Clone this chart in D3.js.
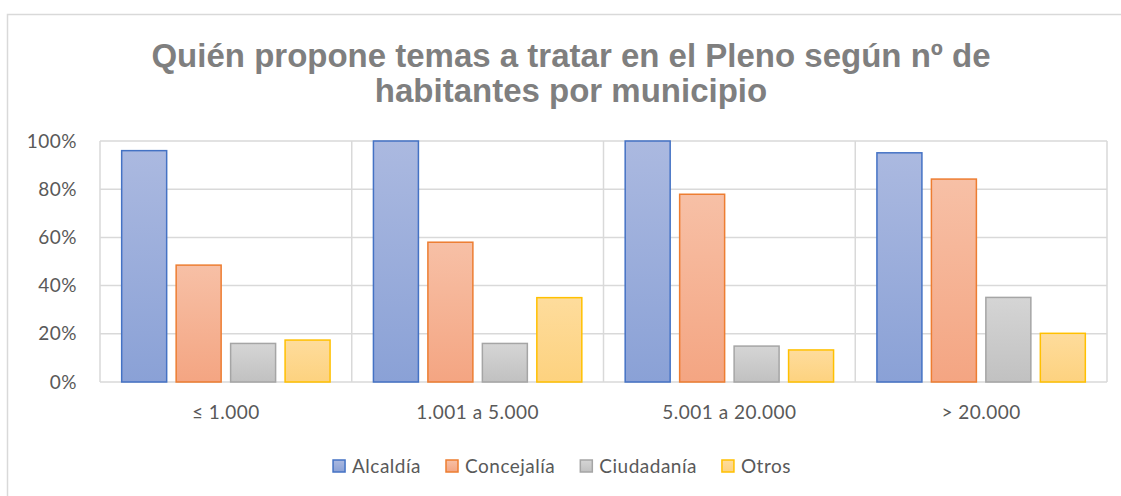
<!DOCTYPE html>
<html>
<head>
<meta charset="utf-8">
<script src="https://cdn.jsdelivr.net/npm/d3@7"></script>
<style>
  body { margin: 0; background: #fff; }
  svg { display: block; }
  .lbl { font-family: Lato, "Noto Sans", sans-serif; font-size: 19px; letter-spacing: 0.5px; fill: #595959; }
  .title { font-family: "Liberation Sans", Arial, sans-serif; font-weight: bold; font-size: 33px; fill: #7f7f7f; }
</style>
</head>
<body>
<svg width="1121" height="496"></svg>
<script>
// values (share of municipalities)
const categories = ['≤ 1.000', '1.001 a 5.000', '5.001 a 20.000', '> 20.000'];
const seriesNames = ['Alcaldía', 'Concejalía', 'Ciudadanía', 'Otros'];
const alcaldia   = [0.96, 1.00, 1.00, 0.951];
const concejalia = [0.485, 0.58, 0.779, 0.842];
const ciudadania = [0.16, 0.16, 0.149, 0.351];
const otros      = [0.174, 0.35, 0.133, 0.202];
const yTicks = [0, 0.2, 0.4, 0.6, 0.8, 1];
const titleLines = ['Quién propone temas a tratar en el Pleno según nº de', 'habitantes por municipio'];

const seriesValues = [alcaldia, concejalia, ciudadania, otros];
const stroke = ['#4472c4', '#ed7d31', '#a5a5a5', '#ffc000'];
const fillTop = ['#abb9e0', '#f7c0a6', '#d5d5d5', '#fedc9c'];
const fillBot = ['#8aa1d6', '#f4a582', '#c1c1c1', '#fdd27f'];

const svg = d3.select('svg');
const width = +svg.attr('width');
const height = +svg.attr('height');
const margin = {top: 141, right: 14, bottom: 114, left: 100};
const innerWidth = width - margin.left - margin.right;
const innerHeight = height - margin.top - margin.bottom;

// chart frame (right and bottom edges fall outside the picture)
svg.append('rect')
  .attr('x', 7.5).attr('y', 14.5)
  .attr('width', width).attr('height', height)
  .attr('fill', 'none').attr('stroke', '#d9d9d9').attr('stroke-width', 1.5);

// gradients
const defs = svg.append('defs');
seriesNames.forEach((s, i) => {
  const lg = defs.append('linearGradient')
    .attr('id', 'grad' + i)
    .attr('x1', 0).attr('y1', 0).attr('x2', 0).attr('y2', 1);
  lg.append('stop').attr('offset', '0%').attr('stop-color', fillTop[i]);
  lg.append('stop').attr('offset', '100%').attr('stop-color', fillBot[i]);
});

// title
svg.selectAll('text.title').data(titleLines)
  .enter().append('text')
  .attr('class', 'title')
  .attr('x', 571)
  .attr('y', (d, i) => 67 + i * 35)
  .attr('text-anchor', 'middle')
  .text(d => d);

const g = svg.append('g')
  .attr('transform', `translate(${margin.left}, ${margin.top})`);

const xScale = d3.scaleBand()
  .domain(categories)
  .range([0, innerWidth]);

const xInner = d3.scaleBand()
  .domain(seriesNames)
  .range([0, xScale.bandwidth()])
  .paddingInner(0.174)
  .paddingOuter(0.398);

const yScale = d3.scaleLinear()
  .domain([0, 1])
  .range([innerHeight, 0]);

// horizontal gridlines
g.selectAll('.hgrid').data(yTicks)
  .enter().append('line')
  .attr('class', 'hgrid')
  .attr('x1', 0).attr('x2', innerWidth)
  .attr('y1', d => yScale(d)).attr('y2', d => yScale(d))
  .attr('stroke', '#d9d9d9').attr('stroke-width', 1.5);

// vertical category gridlines
g.selectAll('.vgrid').data(categories.concat(['end']))
  .enter().append('line')
  .attr('class', 'vgrid')
  .attr('x1', (d, i) => i * xScale.step()).attr('x2', (d, i) => i * xScale.step())
  .attr('y1', 0).attr('y2', innerHeight)
  .attr('stroke', '#d9d9d9').attr('stroke-width', 1.5);

// y axis labels
const yAxis = d3.axisLeft(yScale)
  .tickValues(yTicks)
  .tickFormat(d3.format('.0%'))
  .tickSize(0)
  .tickPadding(23);
g.append('g').call(yAxis)
  .attr('font-size', null).attr('font-family', null)
  .call(a => a.select('.domain').remove())
  .call(a => a.selectAll('text').attr('class', 'lbl').attr('fill', null));

// x axis labels
const xAxis = d3.axisBottom(xScale).tickSize(0).tickPadding(24);
g.append('g')
  .attr('transform', `translate(0, ${innerHeight})`)
  .call(xAxis)
  .attr('font-size', null).attr('font-family', null)
  .call(a => a.select('.domain').remove())
  .call(a => a.selectAll('text').attr('class', 'lbl').attr('fill', null));

// bars
const barData = [];
categories.forEach((c, ci) => {
  seriesNames.forEach((s, si) => {
    barData.push({cat: c, series: s, si: si, value: seriesValues[si][ci]});
  });
});

g.selectAll('rect.bar').data(barData)
  .enter().append('rect')
  .attr('class', 'bar')
  .attr('x', d => xScale(d.cat) + xInner(d.series))
  .attr('y', d => yScale(d.value))
  .attr('width', xInner.bandwidth())
  .attr('height', d => innerHeight - yScale(d.value))
  .attr('fill', d => `url(#grad${d.si})`)
  .attr('stroke', d => stroke[d.si])
  .attr('stroke-width', 1.5);

// legend
const legend = svg.append('g').attr('transform', 'translate(0, 466)');
const items = legend.selectAll('g').data(seriesNames).enter().append('g');
items.append('rect')
  .attr('y', -6).attr('width', 12).attr('height', 12)
  .attr('fill', (d, i) => `url(#grad${i})`)
  .attr('stroke', (d, i) => stroke[i]).attr('stroke-width', 1.5);
items.append('text')
  .attr('class', 'lbl')
  .attr('x', 19).attr('dy', '0.35em')
  .text(d => d);
let widths = [];
items.each(function() { widths.push(this.getBBox().width); });
const gap = 25;
const total = d3.sum(widths) + gap * (widths.length - 1);
let cx = 562 - total / 2;
items.attr('transform', (d, i) => {
  const t = `translate(${cx}, 0)`;
  cx += widths[i] + gap;
  return t;
});
</script>
</body>
</html>
